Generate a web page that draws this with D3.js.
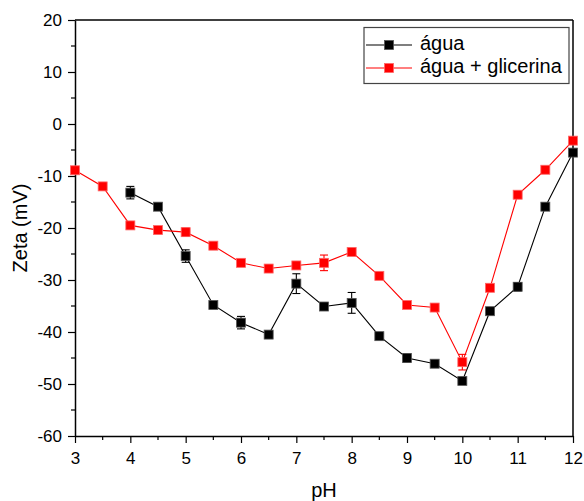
<!DOCTYPE html>
<html>
<head>
<meta charset="utf-8">
<script src="https://cdn.jsdelivr.net/npm/d3@7"></script>
<style>
  body { margin: 0; background: #fff; }
  svg { display: block; font-family: Arial, "Liberation Sans", sans-serif; }
</style>
</head>
<body>
<svg id="chart" width="584" height="501"></svg>
<script>
// pH values measured
const phAgua = [4, 4.5, 5, 5.5, 6, 6.5, 7, 7.5, 8, 8.5, 9, 9.5, 10, 10.5, 11, 11.5, 12];
const zetaAgua = [-13.2, -15.9, -25.4, -34.8, -38.2, -40.5, -30.7, -35.1, -34.4, -40.8, -45.0, -46.1, -49.4, -36.0, -31.3, -15.9, -5.5];
const errAgua = [1.2, 0.5, 1.2, 0.6, 1.2, 0.5, 1.9, 0.4, 2.0, 0.5, 0.8, 0.5, 0.5, 0.5, 0.8, 0.5, 0.5];

const phGlic = [3, 3.5, 4, 4.5, 5, 5.5, 6, 6.5, 7, 7.5, 8, 8.5, 9, 9.5, 10, 10.5, 11, 11.5, 12];
const zetaGlic = [-8.9, -12.0, -19.5, -20.4, -20.8, -23.4, -26.7, -27.8, -27.2, -26.7, -24.6, -29.2, -34.8, -35.3, -45.8, -31.5, -13.6, -8.8, -3.2];
const errGlic = [0.4, 0.4, 0.5, 0.5, 0.8, 0.5, 0.5, 0.5, 0.6, 1.5, 0.5, 0.5, 0.5, 0.5, 1.5, 0.5, 0.5, 0.5, 0.5];

const xTicks = [3, 4, 5, 6, 7, 8, 9, 10, 11, 12];
const yTicks = [-60, -50, -40, -30, -20, -10, 0, 10, 20];

const seriesNames = ["água", "água + glicerina"];
const seriesColors = ["#000000", "#ff0000"];

const svg = d3.select("#chart");
const margin = { left: 75, right: 11, top: 20, bottom: 65 };
const W = 584, H = 501;
const FONT = "Arial, 'Liberation Sans', sans-serif";

const x = d3.scaleLinear().domain([3, 12]).range([margin.left, W - margin.right]);
const y = d3.scaleLinear().domain([-60, 20]).range([H - margin.bottom, margin.top]);

// frame: top and right lines
svg.append("line").attr("x1", x(3)).attr("x2", x(12)).attr("y1", y(20)).attr("y2", y(20))
  .attr("stroke", "#000").attr("stroke-width", 1.5);
svg.append("line").attr("x1", x(12)).attr("x2", x(12)).attr("y1", y(20)).attr("y2", y(-60))
  .attr("stroke", "#000").attr("stroke-width", 1.5);

// minor ticks
const xMinor = d3.range(3.5, 12, 1);
const yMinor = d3.range(-55, 20, 10);

const xAxis = svg.append("g").attr("transform", `translate(0,${y(-60)})`)
  .call(d3.axisBottom(x).tickValues(xTicks).tickFormat(d => String(d)).tickSize(7).tickSizeOuter(0).tickPadding(9));
xAxis.append("g").selectAll("line").data(xMinor).join("line")
  .attr("x1", d => x(d)).attr("x2", d => x(d)).attr("y1", 0).attr("y2", 4)
  .attr("stroke", "#000").attr("stroke-width", 1.2);

const yAxis = svg.append("g").attr("transform", `translate(${x(3)},0)`)
  .call(d3.axisLeft(y).tickValues(yTicks).tickFormat(d => String(d)).tickSize(7).tickSizeOuter(0).tickPadding(6));
yAxis.append("g").selectAll("line").data(yMinor).join("line")
  .attr("x1", 0).attr("x2", -4).attr("y1", d => y(d)).attr("y2", d => y(d))
  .attr("stroke", "#000").attr("stroke-width", 1.2);

[xAxis, yAxis].forEach(g => {
  g.select(".domain").attr("stroke-width", 1.5);
  g.selectAll(".tick line").attr("stroke-width", 1.2);
  g.selectAll("text").attr("font-size", 17).attr("font-family", FONT).attr("fill", "#000");
});

// axis titles
svg.append("text").attr("x", x(7.5)).attr("y", 497).attr("text-anchor", "middle")
  .attr("font-size", 20).text("pH");
svg.append("text").attr("transform", `translate(27,${y(-20)}) rotate(-90)`).attr("text-anchor", "middle")
  .attr("font-size", 20).text("Zeta (mV)");

function drawSeries(phs, vals, errs, color, outline) {
  const g = svg.append("g");
  const pts = phs.map((p, i) => ({ p, v: vals[i], e: errs[i] }));
  g.append("path").datum(pts)
    .attr("d", d3.line().x(d => x(d.p)).y(d => y(d.v)))
    .attr("fill", "none").attr("stroke", color).attr("stroke-width", 1.1);
  // error bars
  const eb = g.selectAll(".eb").data(pts).join("g");
  eb.append("line").attr("x1", d => x(d.p)).attr("x2", d => x(d.p))
    .attr("y1", d => y(d.v - d.e)).attr("y2", d => y(d.v + d.e))
    .attr("stroke", color).attr("stroke-width", 1.1);
  eb.append("line").attr("x1", d => x(d.p) - 4).attr("x2", d => x(d.p) + 4)
    .attr("y1", d => y(d.v - d.e)).attr("y2", d => y(d.v - d.e))
    .attr("stroke", color).attr("stroke-width", 1.1);
  eb.append("line").attr("x1", d => x(d.p) - 4).attr("x2", d => x(d.p) + 4)
    .attr("y1", d => y(d.v + d.e)).attr("y2", d => y(d.v + d.e))
    .attr("stroke", color).attr("stroke-width", 1.1);
  // markers
  g.selectAll("rect").data(pts).join("rect")
    .attr("x", d => x(d.p) - 4.5).attr("y", d => y(d.v) - 4.5)
    .attr("width", 9).attr("height", 9)
    .attr("fill", color).attr("stroke", outline).attr("stroke-width", 0.8);
}

drawSeries(phAgua, zetaAgua, errAgua, seriesColors[0], "#555");
drawSeries(phGlic, zetaGlic, errGlic, seriesColors[1], "#ff6666");

// legend
const lg = svg.append("g");
lg.append("rect").attr("x", 364).attr("y", 27.5).attr("width", 205).attr("height", 56)
  .attr("fill", "#fff").attr("stroke", "#444").attr("stroke-width", 1.2);
seriesNames.forEach((name, i) => {
  const cy = 45 + i * 23;
  lg.append("line").attr("x1", 366).attr("x2", 412).attr("y1", cy).attr("y2", cy)
    .attr("stroke", seriesColors[i]).attr("stroke-width", 1.1);
  lg.append("rect").attr("x", 389 - 4.5).attr("y", cy - 4.5).attr("width", 9).attr("height", 9)
    .attr("fill", seriesColors[i]).attr("stroke", i === 0 ? "#555" : "#ff6666").attr("stroke-width", 0.8);
  lg.append("text").attr("x", 420).attr("y", cy + 5).attr("font-size", 20).attr("font-family", FONT).text(name);
});
</script>
</body>
</html>
